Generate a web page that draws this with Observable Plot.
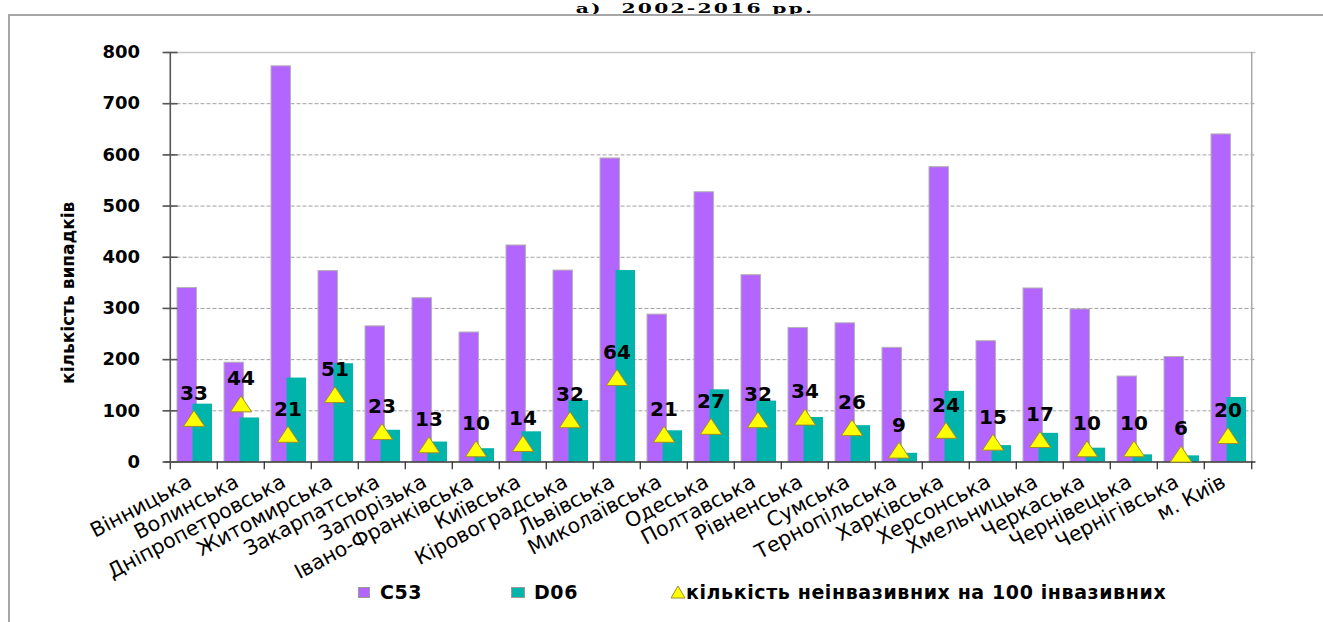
<!DOCTYPE html>
<html><head><meta charset="utf-8">
<script src="https://cdn.jsdelivr.net/npm/d3@7"></script>
<script src="https://cdn.jsdelivr.net/npm/@observablehq/plot@0.6"></script>
<style>
html,body{margin:0;padding:0;background:#fff}
body{width:1323px;height:622px;overflow:hidden;position:relative;font-family:"DejaVu Sans",sans-serif}
#chart{position:absolute;left:0;top:0}
#frame{position:absolute;left:8px;top:14px;width:1330px;height:640px;border-top:2px solid #a6a6a6;border-left:2px solid #a6a6a6;box-sizing:border-box;pointer-events:none}
#title{position:absolute;left:0;width:1390px;top:0;text-align:center;font:bold 13.5px "DejaVu Serif","Liberation Serif",serif;letter-spacing:1.5px;line-height:16px;height:16px;color:#000;transform:scaleX(1.5);transform-origin:695px 0;white-space:pre}
#legend{position:absolute;left:0;top:0;width:1323px;height:622px;pointer-events:none}
.lg-sw{position:absolute;box-sizing:border-box;border:1px solid #9a9a9a}
.lg-tx{position:absolute;top:581px;line-height:22px;font:bold 19px "DejaVu Sans",sans-serif;letter-spacing:0.6px;color:#000;white-space:nowrap}
</style>
</head><body>
<div id="chart"></div>
<div id="title">а)  2002-2016 рр.</div>
<div id="legend"></div>
<div id="frame"></div>
<script>
// ---- data ----
const regions = ["Вінницька","Волинська","Дніпропетровська","Житомирська","Закарпатська","Запорізька","Івано-Франківська","Київська","Кіровоградська","Львівська","Миколаївська","Одеська","Полтавська","Рівненська","Сумська","Тернопільська","Харківська","Херсонська","Хмельницька","Черкаська","Чернівецька","Чернігівська","м. Київ"];
const c53 = [340,194,773,373,265,320,253,423,374,593,288,527,365,262,271,223,576,236,339,298,167,205,640];
const d06 = [113,86,164,192,62,39,26,59,120,374,61,141,119,87,71,17,138,32,56,27,14,12,126];
const ratio = [33,44,21,51,23,13,10,14,32,64,21,27,32,34,26,9,24,15,17,10,10,6,20];
const yTicks = [0,100,200,300,400,500,600,700,800];
const gridTicks = [100,200,300,400,500,600,700];
const yAxisTitle = "кількість випадків";
const seriesNames = ["C53","D06","кількість неінвазивних на 100 інвазивних"];
const colors = {c53:"#b266ff", d06:"#00b3ab", tri:"#ffff00"};
// hidden secondary axis for the ratio series: 0..310 mapped onto the 0..800 primary range
const ratioAxisMax = 310, primaryMax = 800;

const rows = regions.map((r,i)=>({region:r, c53:c53[i], d06:d06[i], ratio:ratio[i], ratioY: ratio[i]*primaryMax/ratioAxisMax}));

const W = 1323, H = 570, ML = 164.5, MR = 67.5, MT = 52, MB = 108.5;
const bw = (W-ML-MR)/regions.length;
const last = regions[regions.length-1];

// flat (Excel-like) triangle symbol, centred on its bounding box
const flatTriangle = {
  draw(context, size) {
    const a = Math.sqrt(size) * 0.77, h = a * 1.5;
    context.moveTo(0, -h/2);
    context.lineTo(a, h/2);
    context.lineTo(-a, h/2);
    context.closePath();
  }
};

const plot = Plot.plot({
  width: W, height: H,
  marginLeft: ML, marginRight: MR, marginTop: MT, marginBottom: MB,
  style: {fontFamily:"DejaVu Sans, sans-serif", fontSize:"18px", fontWeight:"bold", color:"#000", background:"transparent", overflow:"visible"},
  x: {type:"band", domain: regions, padding: 0, axis: null},
  y: {domain:[0,800], ticks: yTicks, tickSize: 0, tickPadding: 25, label: null, tickFormat: d=>String(d)},
  marks: [
    Plot.ruleY(gridTicks, {stroke:"#a0a0a0", strokeWidth:1, strokeDasharray:"4,2"}),
    Plot.ruleY([800], {stroke:"#c4c4c4", strokeWidth:1.5}),
    Plot.ruleX([last], {dx: bw/2, y1:0, y2:800, stroke:"#a8a8a8", strokeWidth:1.5}),
    Plot.barY(rows, {x:"region", y:"c53", fill:colors.c53, stroke:"#b4b4b4", strokeWidth:1, insetLeft:7, insetRight:20.5}),
    Plot.barY(rows, {x:"region", y:"d06", fill:colors.d06, insetLeft:22.5, insetRight:5}),
    Plot.ruleY([0], {stroke:"#333", strokeWidth:1.3}),
    Plot.ruleX(regions, {dx: -bw/2, y1:0, y2:-15, stroke:"#333", strokeWidth:1.3}),
    Plot.ruleX([last], {dx: bw/2, y1:0, y2:-15, stroke:"#333", strokeWidth:1.3}),
    Plot.ruleX([regions[0]], {dx: -bw/2, y1:0, y2:800, stroke:"#555", strokeWidth:1.6}),
    Plot.tickY(yTicks, {y:d=>d, x:()=>regions[0], insetLeft:-7.5, insetRight:bw-8, stroke:"#555", strokeWidth:1.6}),
    Plot.dot(rows, {x:"region", y:"ratioY", symbol:flatTriangle, r:7.8, fill:colors.tri, stroke:"#a08c28", strokeWidth:1}),
    Plot.text(rows, {x:"region", y:"ratioY", text:d=>String(d.ratio), dy:-25, fontSize:20, fontWeight:"bold", fontFamily:"DejaVu Sans, sans-serif", fill:"#000"}),
    Plot.text(regions, {x:d=>d, frameAnchor:"bottom", text:d=>d, dx:-1, dy:24, rotate:-28, textAnchor:"end", lineAnchor:"bottom", fontSize:20.5, fontWeight:"normal", fontFamily:"DejaVu Sans, sans-serif", fill:"#000"}),
    Plot.text([yAxisTitle], {frameAnchor:"left", text:d=>d, dx:-96.5, dy:35.5, rotate:-90, textAnchor:"middle", fontSize:17, fontWeight:"bold", fontFamily:"DejaVu Sans, sans-serif", fill:"#000"})
  ]
});
document.getElementById("chart").appendChild(plot);

// ---- legend (HTML, below the plot area) ----
const lg = document.getElementById("legend");
function sw(left, w, color){ const d=document.createElement("div"); d.className="lg-sw"; d.style.left=left+"px"; d.style.top="587px"; d.style.width=w+"px"; d.style.height="10.5px"; d.style.background=color; lg.appendChild(d); }
function tx(left, t){ const d=document.createElement("div"); d.className="lg-tx"; d.style.left=left+"px"; d.textContent=t; lg.appendChild(d); }
sw(357.5, 12.5, colors.c53); tx(380, seriesNames[0]);
sw(511, 13.5, colors.d06); tx(534, seriesNames[1]);
const ns="http://www.w3.org/2000/svg";
const ts=document.createElementNS(ns,"svg"); ts.setAttribute("width","16"); ts.setAttribute("height","14");
ts.style.position="absolute"; ts.style.left="670px"; ts.style.top="584.5px";
const pg=document.createElementNS(ns,"polygon"); pg.setAttribute("points","8,1 15,13 1,13"); pg.setAttribute("fill",colors.tri); pg.setAttribute("stroke","#a08c28"); pg.setAttribute("stroke-width","1");
ts.appendChild(pg); lg.appendChild(ts);
tx(686, seriesNames[2]);
</script>
</body></html>
